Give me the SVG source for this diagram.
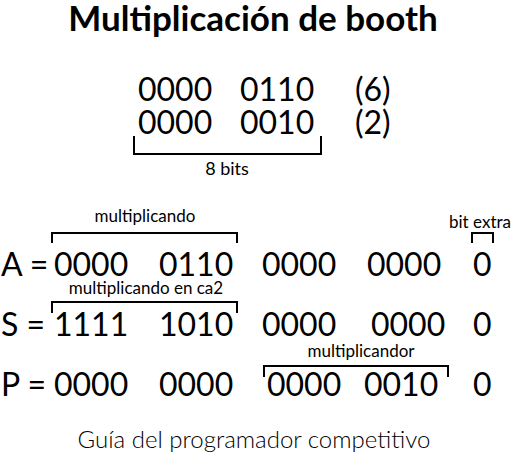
<svg xmlns="http://www.w3.org/2000/svg" width="514" height="462" viewBox="0 0 514 462">
<style>
text{font-family:Lato,"Noto Sans",sans-serif;fill:#000}
.t{font-weight:700;font-size:35px}
.n{font-size:32px}
.s{font-size:17px}
.f{font-size:24px;font-weight:300}
.b{fill:none;stroke:#000;stroke-width:2}
</style>
<rect width="514" height="462" fill="#fff"/>
<text class="t" x="253" y="31" text-anchor="middle">Multiplicación de booth</text>
<g id="operands">
<text class="n" x="138" y="101">0000</text><text class="n" x="240" y="101">0110</text><text class="n" x="355" y="101">(6)</text>
<text class="n" x="138" y="134">0000</text><text class="n" x="240" y="134">0010</text><text class="n" x="355" y="134">(2)</text>
</g>
<g id="rowA">
<text class="n" x="1" y="276">A =</text>
<text class="n" x="54" y="276">0000</text><text class="n" x="159" y="276">0110</text><text class="n" x="262" y="276">0000</text><text class="n" x="367" y="276">0000</text><text class="n" x="473" y="276">0</text>
</g>
<g id="rowS">
<text class="n" x="1" y="336">S =</text>
<text class="n" x="54" y="336">1111</text><text class="n" x="159" y="336">1010</text><text class="n" x="262" y="336">0000</text><text class="n" x="371" y="336">0000</text><text class="n" x="473" y="336">0</text>
</g>
<g id="rowP">
<text class="n" x="1" y="396">P =</text>
<text class="n" x="54" y="396">0000</text><text class="n" x="159" y="396">0000</text><text class="n" x="267" y="396">0000</text><text class="n" x="364" y="396">0010</text><text class="n" x="473" y="396">0</text>
</g>
<g id="brackets">
<path class="b" d="M134,136V154H321V136"/>
<path class="b" d="M52,243V233H237V243"/>
<path class="b" d="M472,243V233H493V243"/>
<path class="b" d="M52,313V302H237V313"/>
<path class="b" d="M264,377V366H448V377"/>
</g>
<g id="labels">
<text font-size="18" x="227" y="175" text-anchor="middle">8 bits</text>
<text class="s" x="145" y="222" text-anchor="middle">multiplicando</text>
<text class="s" x="480" y="228" text-anchor="middle">bit extra</text>
<text class="s" x="146" y="294" text-anchor="middle">multiplicando en ca2</text>
<text class="s" x="361" y="357" text-anchor="middle">multiplicandor</text>
</g>
<text class="f" x="254" y="448" text-anchor="middle">Guía del programador competitivo</text>
</svg>
